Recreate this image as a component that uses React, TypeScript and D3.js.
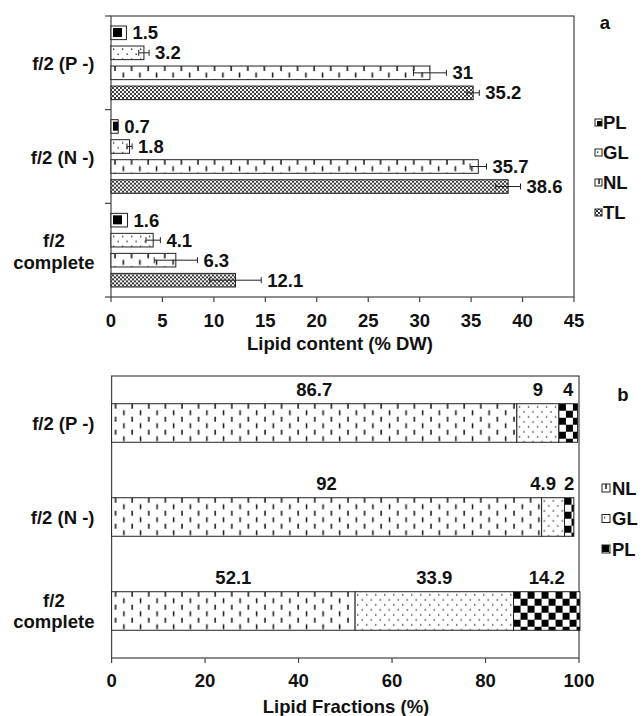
import { useMemo } from "react";
import * as d3 from "d3";

const groupKeys = ["P", "N", "C"];
const groupLines = [["f/2 (P -)"], ["f/2 (N -)"], ["f/2", "complete"]];

// panel a: lipid content (% DW)
const contentSeries = ["PL", "GL", "NL", "TL"];
const plContent = [1.5, 0.7, 1.6];
const glContent = [3.2, 1.8, 4.1];
const nlContent = [31, 35.7, 6.3];
const tlContent = [35.2, 38.6, 12.1];
const plErr = [0, 0, 0];
const glErr = [0.5, 0.25, 0.7];
const nlErr = [1.6, 0.8, 2.1];
const tlErr = [0.6, 1.2, 2.5];
const ticksA = [0, 5, 10, 15, 20, 25, 30, 35, 40, 45];

// panel b: lipid fractions (%)
const fractionSeries = ["NL", "GL", "PL"];
const nlFrac = [86.7, 92, 52.1];
const glFrac = [9, 4.9, 33.9];
const plFrac = [4, 2, 14.2];
const ticksB = [0, 20, 40, 60, 80, 100];

const FONT = "'Liberation Sans', Arial, Helvetica, sans-serif";
const FS = 18.5;
const INK = "#111";
const FRAME = "#444";

function textWidth(s: string, size: number) {
  const c = document.createElement("canvas").getContext("2d");
  if (!c) return s.length * size * 0.55;
  c.font = `bold ${size}px ${FONT}`;
  return c.measureText(s).width;
}

function CategoryLabels({ y, center }: { y: d3.ScaleBand<string>; center: number }) {
  return (
    <g>
      {groupKeys.map((k, i) => {
        const lines = groupLines[i];
        const cy = y(k)! + y.bandwidth() / 2;
        const right = 94.5;
        const w = d3.max(lines, (l) => textWidth(l, FS))!;
        const multi = lines.length > 1;
        return lines.map((l, j) => (
          <text
            key={k + j}
            x={multi ? right - w / 2 : right}
            y={cy + center + (j - (lines.length - 1) / 2) * 21.7}
            textAnchor={multi ? "middle" : "end"}
            fontSize={FS}
            fontWeight="bold"
            fill={INK}
          >
            {l}
          </text>
        ));
      })}
    </g>
  );
}

function Patterns() {
  return (
    <defs>
      <pattern id="tl" width="4" height="4" patternUnits="userSpaceOnUse">
        <rect width="4" height="4" fill="#fff" />
        <path d="M0,0L4,4M4,0L0,4" stroke="#222" strokeWidth="0.9" />
      </pattern>
      <pattern id="nl" width="16.6" height="13" patternUnits="userSpaceOnUse">
        <rect width="16.6" height="13" fill="#fff" />
        <path d="M4,0V5M12.3,6.5V11.5" stroke="#111" strokeWidth="1.5" />
      </pattern>
      <pattern id="gl" width="9" height="10" patternUnits="userSpaceOnUse">
        <rect width="9" height="10" fill="#fff" />
        <rect x="2" y="2.5" width="1.3" height="1.3" fill="#111" />
        <rect x="6.5" y="7.5" width="1.3" height="1.3" fill="#111" />
      </pattern>
      <pattern id="pl" width="14" height="14" patternUnits="userSpaceOnUse">
        <rect width="14" height="14" fill="#fff" />
        <rect x="0" y="0" width="7" height="7" fill="#000" />
        <rect x="7" y="7" width="7" height="7" fill="#000" />
      </pattern>
      <pattern id="plA" width="14" height="14" patternUnits="userSpaceOnUse">
        <rect width="14" height="14" fill="#fff" />
        <rect x="2" y="2" width="9" height="9" fill="#000" />
      </pattern>
    </defs>
  );
}

const fillA: Record<string, string> = { PL: "url(#plA)", GL: "url(#gl)", NL: "url(#nl)", TL: "url(#tl)" };
const fillB: Record<string, string> = { PL: "url(#pl)", GL: "url(#gl)", NL: "url(#nl)" };

export default function App() {
  const rowsA = useMemo(
    () =>
      groupKeys.map((g, i) => ({
        g,
        values: [
          { key: "PL", v: plContent[i], e: plErr[i] },
          { key: "GL", v: glContent[i], e: glErr[i] },
          { key: "NL", v: nlContent[i], e: nlErr[i] },
          { key: "TL", v: tlContent[i], e: tlErr[i] },
        ],
      })),
    []
  );

  const rowsB = groupKeys.map((g, i) => ({ g, NL: nlFrac[i], GL: glFrac[i], PL: plFrac[i] }));
  const stackB = d3.stack<any>().keys(fractionSeries)(rowsB);

  // panel a scales
  const xA = d3.scaleLinear().domain([0, 45]).range([111, 574]);
  const yA = d3.scaleBand().domain(groupKeys).range([16, 297]);
  const yAIn = d3
    .scaleBand()
    .domain(contentSeries)
    .range([0, yA.bandwidth()])
    .paddingInner(0.32)
    .paddingOuter(0.5);

  // panel b scales
  const xB = d3.scaleLinear().domain([0, 100]).range([111.6, 579]);
  const yB = d3.scaleBand().domain(groupKeys).range([376, 658]).paddingInner(0.59).paddingOuter(0.295);

  // segment labels of panel b, pushed left where they would collide
  const labelsB = groupKeys.map((g, i) => {
    const items = stackB.map((serie) => {
      const seg = serie[i];
      const txt = String((rowsB[i] as any)[serie.key]);
      return { key: serie.key, txt, cx: (xB(seg[0]) + xB(seg[1])) / 2, w: textWidth(txt, FS) };
    });
    for (let j = items.length - 2; j >= 0; j--) {
      const lim = items[j + 1].cx - items[j + 1].w / 2 - 8;
      if (items[j].cx + items[j].w / 2 > lim) items[j].cx = lim - items[j].w / 2;
    }
    return items;
  });

  return (
    <svg
      width={642}
      height={716}
      style={{ position: "absolute", left: 0, top: 0, background: "#fff" }}
      fontFamily={FONT}
    >
      <Patterns />

      {/* ---------- panel a ---------- */}
      <g>
        <rect x={111} y={16} width={463} height={281} fill="#fff" stroke={FRAME} strokeWidth={1.2} />
        {[16, ...groupKeys.map((k) => yA(k)! + yA.bandwidth())].map((t, i) => (
          <line key={i} x1={105} x2={111} y1={t} y2={t} stroke={FRAME} strokeWidth={1.2} />
        ))}
        {rowsA.map((row) =>
          row.values.map((d) => {
            const y0 = yA(row.g)! + yAIn(d.key)!;
            const h = yAIn.bandwidth();
            const cy = y0 + h / 2;
            const x0 = xA(0);
            const x1 = xA(d.v);
            const ex = xA(d.v + d.e);
            return (
              <g key={row.g + d.key}>
                <g transform={`translate(${x0},${y0})`}>
                  <rect width={x1 - x0} height={h} fill={fillA[d.key]} stroke="#222" strokeWidth={1} />
                </g>
                {d.e > 0 && (
                  <g stroke="#222" strokeWidth={1}>
                    <line x1={xA(d.v - d.e)} x2={ex} y1={cy} y2={cy} />
                    <line x1={xA(d.v - d.e)} x2={xA(d.v - d.e)} y1={cy - 3} y2={cy + 3} />
                    <line x1={ex} x2={ex} y1={cy - 3} y2={cy + 3} />
                  </g>
                )}
                <text x={ex + 6} y={cy + 6.5} fontSize={FS} fontWeight="bold" fill={INK}>
                  {String(d.v)}
                </text>
              </g>
            );
          })
        )}
        {ticksA.map((t) => (
          <g key={t}>
            <line x1={xA(t)} x2={xA(t)} y1={297} y2={302} stroke={FRAME} strokeWidth={1.2} />
            <text x={xA(t)} y={327} textAnchor="middle" fontSize={FS} fontWeight="bold" fill={INK}>
              {t}
            </text>
          </g>
        ))}
        <text x={340} y={350} textAnchor="middle" fontSize={FS} fontWeight="bold" fill={INK}>
          Lipid content (% DW)
        </text>
        <CategoryLabels y={yA} center={7.5} />
        <text x={605} y={29} textAnchor="middle" fontSize={FS} fontWeight="bold" fill={INK}>
          a
        </text>
        {contentSeries.map((s, i) => (
          <g key={s}>
            <g transform={`translate(595,${119 + i * 30})`}>
              <rect width={7} height={7} fill={fillA[s]} stroke="#222" strokeWidth={1} />
            </g>
            <text x={603} y={129 + i * 30} fontSize={FS} fontWeight="bold" fill={INK}>
              {s}
            </text>
          </g>
        ))}
      </g>

      {/* ---------- panel b ---------- */}
      <g>
        <rect x={111.6} y={376} width={467.4} height={282} fill="#fff" stroke={FRAME} strokeWidth={1.2} />
        {stackB.map((serie) =>
          serie.map((seg, i) => {
            const g = groupKeys[i];
            const y0 = yB(g)!;
            const x0 = xB(seg[0]);
            const x1 = xB(seg[1]);
            return (
              <g key={serie.key + g} transform={`translate(${x0},${y0})`}>
                <rect width={x1 - x0} height={yB.bandwidth()} fill={fillB[serie.key]} stroke="#222" strokeWidth={1} />
              </g>
            );
          })
        )}
        {labelsB.map((items, i) =>
          items.map((it) => (
            <text
              key={groupKeys[i] + it.key}
              x={it.cx}
              y={yB(groupKeys[i])! - 8}
              textAnchor="middle"
              fontSize={FS}
              fontWeight="bold"
              fill={INK}
            >
              {it.txt}
            </text>
          ))
        )}
        {ticksB.map((t) => (
          <g key={t}>
            <line x1={xB(t)} x2={xB(t)} y1={658} y2={663} stroke={FRAME} strokeWidth={1.2} />
            <text x={xB(t)} y={687} textAnchor="middle" fontSize={FS} fontWeight="bold" fill={INK}>
              {t}
            </text>
          </g>
        ))}
        <text x={346} y={713} textAnchor="middle" fontSize={FS} fontWeight="bold" fill={INK}>
          Lipid Fractions (%)
        </text>
        <CategoryLabels y={yB} center={6.5} />
        <text x={623} y={401} textAnchor="middle" fontSize={FS} fontWeight="bold" fill={INK}>
          b
        </text>
        {fractionSeries.map((s, i) => (
          <g key={s}>
            <g transform={`translate(602,${484 + i * 30.5})`}>
              <rect width={8} height={8} fill={fillB[s]} stroke="#222" strokeWidth={1} />
            </g>
            <text x={612} y={494.5 + i * 30.5} fontSize={FS} fontWeight="bold" fill={INK}>
              {s}
            </text>
          </g>
        ))}
      </g>
    </svg>
  );
}
